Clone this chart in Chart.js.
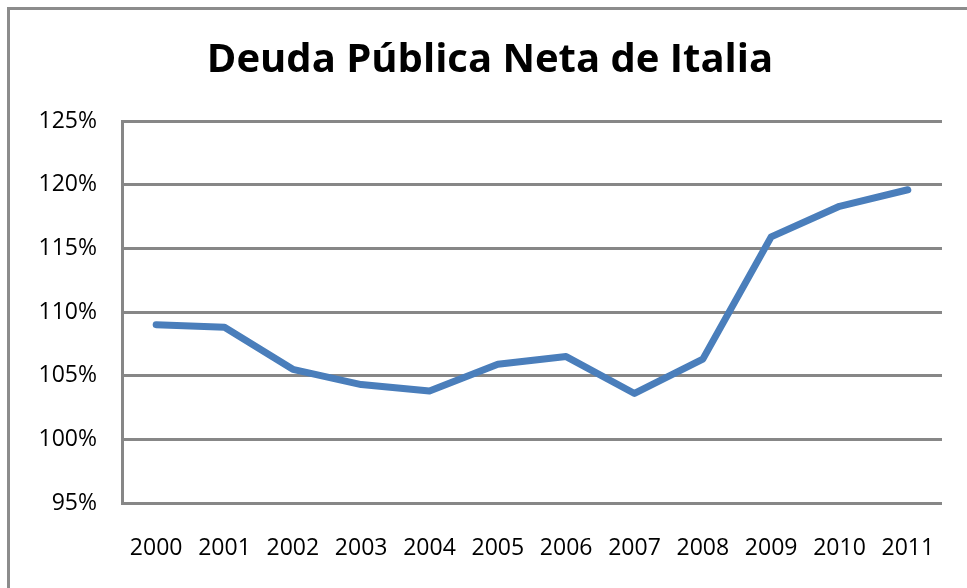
<!DOCTYPE html>
<html>
<head>
<meta charset="utf-8">
<script src="https://cdn.jsdelivr.net/npm/chart.js@4.4.1/dist/chart.umd.min.js"></script>
<style>
  html, body { margin: 0; padding: 0; background: #fff; }
  #wrap { position: relative; width: 967px; height: 588px; overflow: hidden; }
  #frame {
    position: absolute; left: 7px; top: 7px; width: 1000px; height: 700px;
    border-left: 3px solid #8c8c8c; border-top: 3px solid #8c8c8c;
    box-sizing: border-box;
  }
  #chart { position: absolute; left: 0; top: 0; }
</style>
</head>
<body>
<div id="wrap">
  <div id="frame"></div>
  <canvas id="chart" width="967" height="588"></canvas>
</div>
<script>
const years = ['2000', '2001', '2002', '2003', '2004', '2005', '2006', '2007', '2008', '2009', '2010', '2011'];
const deuda = [109.0, 108.8, 105.5, 104.3, 103.8, 105.9, 106.5, 103.6, 106.3, 115.9, 118.3, 119.6];
const yTicks = [95, 100, 105, 110, 115, 120, 125];

const gridGray = '#878787';

new Chart(document.getElementById('chart'), {
  type: 'line',
  data: {
    labels: years,
    datasets: [{
      data: deuda,
      borderColor: '#4a7ebb',
      borderWidth: 7,
      pointRadius: 0,
      tension: 0,
      borderCapStyle: 'round',
      borderJoinStyle: 'round'
    }]
  },
  options: {
    responsive: false,
    animation: false,
    // left padding only moves the title centre; y axis width makes up for it
    layout: { padding: { left: 34, right: 21, top: 0, bottom: 0 } },
    plugins: {
      legend: { display: false },
      tooltip: { enabled: false },
      title: {
        display: true,
        text: 'Deuda Pública Neta de Italia',
        color: '#000',
        font: { family: 'Open Sans', size: 40, weight: 'bold' },
        padding: { top: 37, bottom: 36 }
      }
    },
    scales: {
      y: {
        min: 95,
        max: 125,
        afterBuildTicks: function (scale) {
          scale.ticks = yTicks.map(function (v) { return { value: v }; });
        },
        afterFit: function (scale) { scale.width = 88; },
        ticks: {
          color: '#000',
          font: { family: 'Open Sans', size: 23 },
          padding: 25,
          callback: function (v) { return v + '%'; }
        },
        grid: { color: gridGray, lineWidth: 3, drawTicks: false },
        border: { display: true, color: gridGray, width: 3 }
      },
      x: {
        offset: true,
        afterFit: function (scale) { scale.height = 85; },
        ticks: {
          color: '#000',
          font: { family: 'Open Sans', size: 23 },
          padding: 32,
          maxRotation: 0
        },
        grid: { display: false, drawTicks: false, offset: true },
        border: { display: false }
      }
    }
  }
});
</script>
</body>
</html>
